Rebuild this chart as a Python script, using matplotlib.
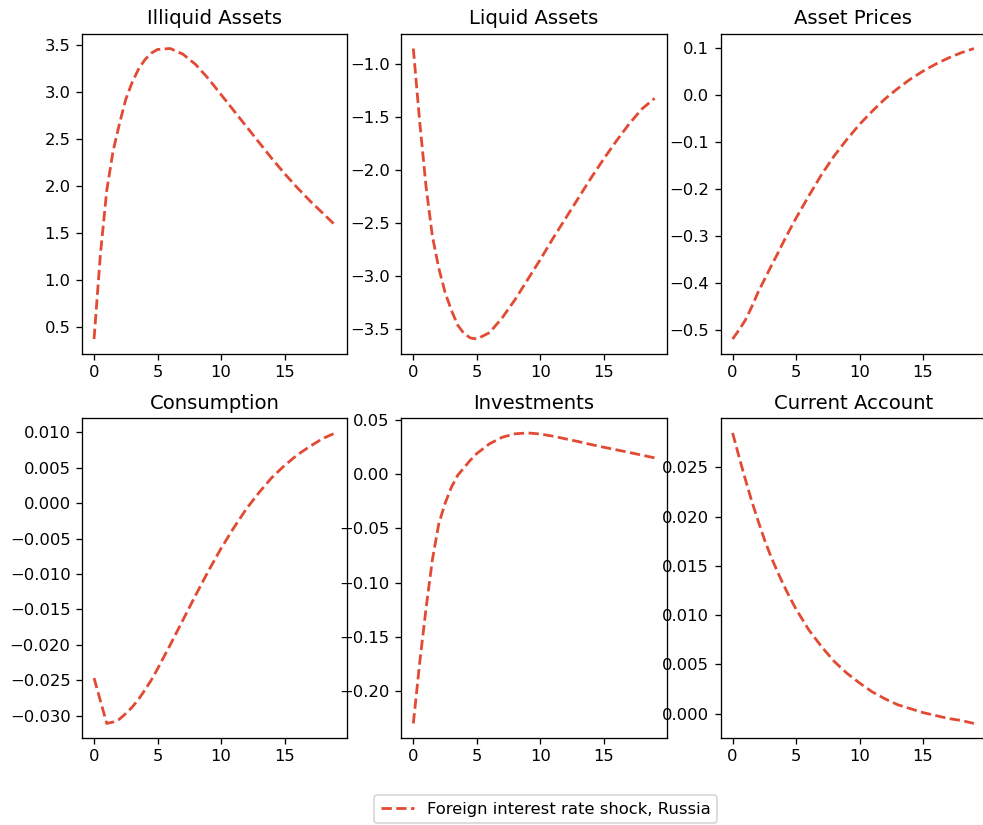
import matplotlib.pyplot as plt
import numpy as np
from matplotlib.ticker import MultipleLocator

# impulse responses; half-period steps early on where the curves bend
periods = np.array([0, 0.5, 1, 1.5, 2, 2.5, 3, 3.5, 4, 4.5,
                    5, 6, 7, 8, 9, 10, 11, 12, 13, 14, 15, 16, 17, 18, 19])

titles = ['Illiquid Assets', 'Liquid Assets', 'Asset Prices',
          'Consumption', 'Investments', 'Current Account']

illiquid = [0.37, 1.27, 1.95, 2.37, 2.66, 2.92, 3.10, 3.24, 3.34, 3.41,
            3.45, 3.46, 3.40, 3.29, 3.14, 2.97, 2.80, 2.63, 2.46, 2.29,
            2.13, 1.98, 1.84, 1.71, 1.58]
liquid = [-0.85, -1.54, -2.15, -2.62, -2.92, -3.15, -3.32, -3.46, -3.54, -3.58,
          -3.59, -3.53, -3.39, -3.22, -3.03, -2.84, -2.64, -2.45, -2.26, -2.07,
          -1.89, -1.72, -1.56, -1.42, -1.32]
prices = [-0.519, -0.500, -0.479, -0.451, -0.420, -0.393, -0.366, -0.340, -0.313, -0.287,
          -0.262, -0.215, -0.170, -0.130, -0.095, -0.063, -0.035, -0.009, 0.013, 0.033,
          0.050, 0.065, 0.078, 0.089, 0.098]
consumption = [-0.0247, -0.0279, -0.0311, -0.0309, -0.0305, -0.0297, -0.0288, -0.0277, -0.0264, -0.0250,
               -0.0234, -0.0200, -0.0165, -0.0130, -0.0096, -0.0064, -0.0035, -0.0008, 0.0015, 0.0036,
               0.0053, 0.0068, 0.0080, 0.0091, 0.0099]
investments = [-0.230, -0.174, -0.124, -0.079, -0.046, -0.027, -0.012, -0.001, 0.006, 0.013,
               0.019, 0.028, 0.034, 0.0372, 0.038, 0.037, 0.035, 0.0325, 0.030, 0.0273,
               0.0248, 0.0224, 0.020, 0.0175, 0.015]
current_account = [0.0285, 0.0261, 0.0238, 0.0216, 0.0196, 0.0177, 0.0160, 0.0145, 0.0131, 0.0118,
                   0.0106, 0.0085, 0.0068, 0.0053, 0.0041, 0.0031, 0.0022, 0.0015, 0.0009, 0.0005,
                   0.0001, -0.0002, -0.0005, -0.0007, -0.0010]

series = [illiquid, liquid, prices, consumption, investments, current_account]
label = 'Foreign interest rate shock, Russia'

# y tick spacing per panel
ystep = [0.5, 0.5, 0.1, 0.005, 0.05, 0.005]

dpi = 118
fig, axes = plt.subplots(2, 3, figsize=(983 / dpi, 825 / dpi), dpi=dpi)
fig.subplots_adjust(left=0.0834, right=1.003, top=0.9588, bottom=0.1055,
                    wspace=0.203, hspace=0.203)

for ax, title, ys, st in zip(axes.flat, titles, series, ystep):
    line, = ax.plot(periods, ys, color='#E24A33', linestyle='--', linewidth=1.7, label=label)
    ax.set_title(title)
    ax.set_xticks([0, 5, 10, 15])
    ax.yaxis.set_major_locator(MultipleLocator(st))

fig.legend(handles=[line], labels=[label], loc='lower center',
           bbox_to_anchor=(0.555, -0.008), ncol=1)

fig.savefig('out.png', dpi=dpi)
